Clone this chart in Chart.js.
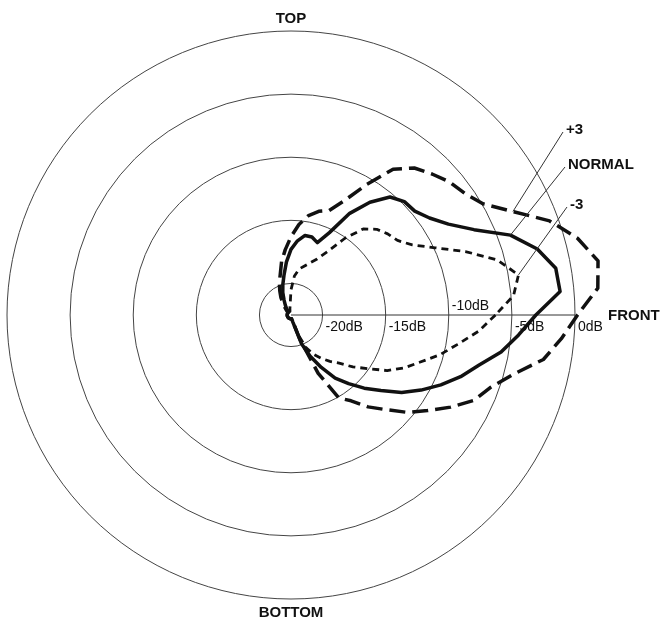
<!DOCTYPE html>
<html>
<head>
<meta charset="utf-8">
<title>Polar response</title>
<script src="https://cdn.jsdelivr.net/npm/chart.js@4.4.1/dist/chart.umd.min.js"></script>
<style>
    html, body { margin: 0; padding: 0; background: #fff; }
    #wrap { position: relative; width: 665px; height: 622px; }
</style>
</head>
<body>
<div id="wrap"><canvas id="polarChart"></canvas></div>
<script>
// Angle in degrees, clockwise from FRONT (90 = BOTTOM, 180 = back, 270 = TOP)
const angles = [
    0, 5, 10, 15, 20, 25, 30, 35, 40, 45, 50, 55,
    60, 65, 70, 75, 80, 85, 90, 95, 100, 105, 110, 115,
    120, 125, 130, 135, 140, 145, 150, 155, 160, 165, 170, 175,
    180, 185, 190, 195, 200, 205, 210, 215, 220, 225, 230, 235,
    240, 245, 250, 255, 260, 265, 270, 275, 280, 285, 290, 295,
    300, 305, 310, 315, 320, 325, 330, 335, 340, 345, 350, 355
];

// Relative level (dB) at each angle
const plus3 = [
    0.2, -1.0, -2.2, -4.3, -5.7, -6.5, -7.9, -9.3, -10.5, -11.9, -13.0, -14.2,
    -14.9, -17.4, -20.5, -22.0, -22.1, -22.2, -22.2, -22.2, -22.2, -22.2, -22.2, -22.2,
    -22.2, -22.2, -22.2, -22.2, -22.2, -22.2, -22.2, -22.2, -22.2, -22.2, -22.2, -22.2,
    -22.2, -22.2, -22.2, -22.2, -22.2, -22.2, -22.2, -22.2, -22.2, -22.0, -21.8, -21.5,
    -20.9, -20.4, -19.8, -19.2, -18.2, -17.3, -16.3, -15.3, -14.5, -14.0, -13.7, -12.5,
    -10.6, -8.4, -7.3, -6.7, -6.1, -5.7, -4.9, -3.1, -0.7, 1.0, 2.2, 1.9
];

const normal = [
    -3.1, -4.4, -5.6, -7.1, -8.2, -9.4, -10.6, -11.8, -13.2, -14.3, -15.4, -16.4,
    -17.7, -18.9, -20.1, -21.9, -22.2, -22.2, -22.2, -22.2, -22.2, -22.2, -22.2, -22.2,
    -22.2, -22.2, -22.2, -22.2, -22.2, -22.2, -22.2, -22.2, -22.2, -22.2, -22.2, -22.2,
    -22.2, -22.2, -22.2, -22.2, -22.2, -22.2, -22.2, -22.2, -22.2, -22.2, -22.2, -21.9,
    -21.6, -21.2, -20.6, -20.0, -19.3, -18.3, -17.3, -16.6, -16.1, -16.1, -16.4, -15.3,
    -13.2, -11.6, -10.3, -9.8, -9.7, -9.1, -8.1, -6.5, -4.0, -2.3, -1.2, -1.1
];

const minus3 = [
    -6.3, -7.6, -9.1, -10.3, -11.6, -12.6, -13.7, -15.1, -16.1, -17.1, -17.7, -18.3,
    -18.9, -19.6, -20.8, -22.0, -22.2, -22.2, -22.2, -22.2, -22.2, -22.2, -22.2, -22.2,
    -22.2, -22.2, -22.2, -22.2, -22.2, -22.2, -22.2, -22.2, -22.2, -22.2, -22.2, -22.2,
    -22.2, -22.2, -22.2, -22.2, -22.2, -22.2, -22.2, -22.2, -22.2, -22.2, -22.2, -22.2,
    -22.2, -22.2, -22.2, -22.2, -22.0, -21.7, -20.5, -19.4, -18.8, -18.5, -18.1, -17.6,
    -16.7, -15.1, -13.6, -12.9, -12.5, -12.2, -11.4, -9.9, -7.8, -5.6, -4.2, -4.8
];

// Rings
const ringValues = [-20, -15, -10, -5, 0];
const ringLabels = ['-20dB', '-15dB', '-10dB', '-5dB', '0dB'];

const INK = '#111';
const FONT = '"Liberation Sans", Arial, sans-serif';

// Text, leader lines and ring labels drawn on top of the radial scale
const annotatePlugin = {
    id: 'annotate',
    afterDatasetsDraw(chart) {
        const r = chart.scales.r;
        const ctx = chart.ctx;
        const cx = r.xCenter;
        const cy = r.yCenter;
        const R = r.drawingArea;

        ctx.save();
        ctx.fillStyle = INK;
        ctx.strokeStyle = '#333';
        ctx.textBaseline = 'middle';

        // ring labels along the front axis
        ctx.font = '14px ' + FONT;
        ctx.textAlign = 'left';
        ringValues.forEach((v, i) => {
            const x = cx + r.getDistanceFromCenterForValue(v);
            const y = v === -10 ? cy - 9 : cy + 12;
            ctx.fillText(ringLabels[i], x + 3, y);
        });

        // direction labels
        ctx.font = 'bold 15px ' + FONT;
        ctx.textAlign = 'center';
        ctx.fillText('TOP', cx, cy - R - 12);
        ctx.fillText('BOTTOM', cx, cy + R + 14);
        ctx.textAlign = 'left';
        ctx.fillText('FRONT', cx + R + 33, cy + 1);

        // curve labels with leader lines to the curves
        const leaders = [
            { text: '+3', ds: 0, index: 67, dx: 272, dy: -183 },
            { text: 'NORMAL', ds: 1, index: 68, dx: 274, dy: -148 },
            { text: '-3', ds: 2, index: 70, dx: 276, dy: -108 }
        ];
        ctx.lineWidth = 1;
        leaders.forEach(l => {
            const el = chart.getDatasetMeta(l.ds).data[l.index];
            ctx.beginPath();
            ctx.moveTo(el.x, el.y);
            ctx.lineTo(cx + l.dx, cy + l.dy);
            ctx.stroke();
            ctx.fillText(l.text, cx + l.dx + 3, cy + l.dy - 2);
        });

        ctx.restore();
    }
};

const ctx = document.getElementById('polarChart').getContext('2d');

new Chart(ctx, {
    type: 'radar',
    data: {
        labels: angles.map(a => a + '°'),
        datasets: [{
            label: '+3',
            data: plus3,
            borderColor: INK,
            borderWidth: 3.5,
            borderDash: [16, 7]
        }, {
            label: 'NORMAL',
            data: normal,
            borderColor: INK,
            borderWidth: 3.5
        }, {
            label: '-3',
            data: minus3,
            borderColor: INK,
            borderWidth: 2.8,
            borderDash: [7, 5]
        }]
    },
    options: {
        responsive: true,
        maintainAspectRatio: false,
        animation: false,
        layout: {
            padding: { left: 7, top: 31, right: 90, bottom: 23 }
        },
        elements: {
            line: {
                fill: false,
                tension: 0,
                borderJoinStyle: 'round'
            },
            point: {
                radius: 0,
                hoverRadius: 0
            }
        },
        datasets: {
            radar: { clip: false }
        },
        plugins: {
            legend: { display: false },
            tooltip: { enabled: false }
        },
        scales: {
            r: {
                min: -22.5,
                max: 0,
                startAngle: 90,
                afterBuildTicks: function(scale) {
                    scale.ticks = ringValues.map(v => ({ value: v }));
                },
                ticks: { display: false },
                pointLabels: { display: false },
                grid: {
                    circular: true,
                    color: '#444',
                    lineWidth: 1
                },
                angleLines: {
                    display: true,
                    color: '#333',
                    lineWidth: function(context) {
                        return context.index === 0 ? 1 : 0;
                    }
                }
            }
        }
    },
    plugins: [annotatePlugin]
});
</script>
</body>
</html>
